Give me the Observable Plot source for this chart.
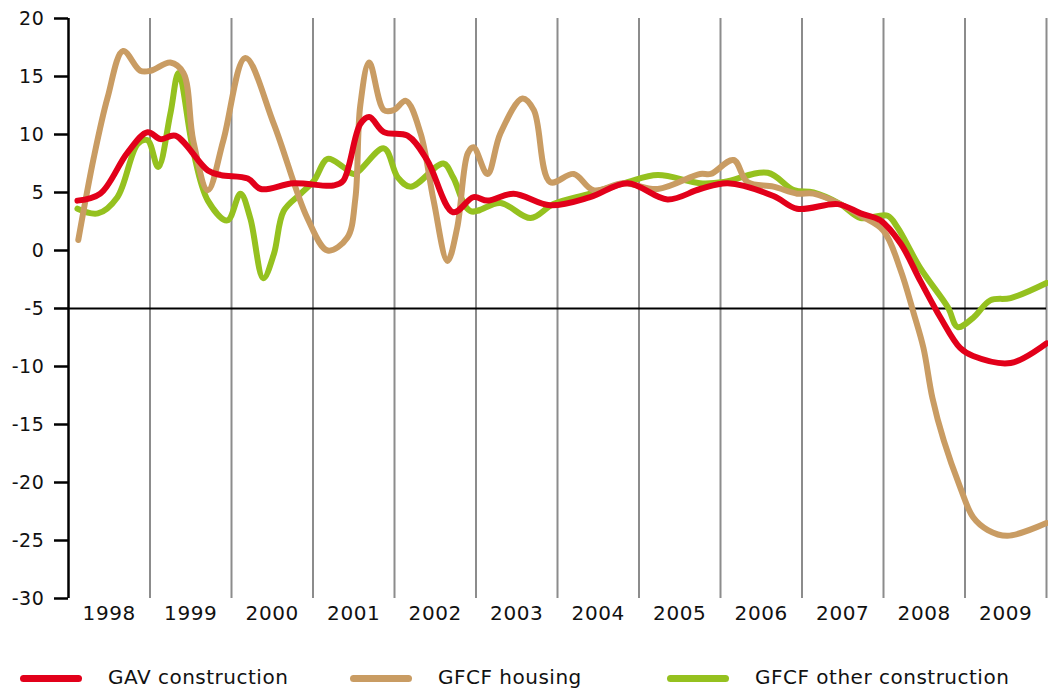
<!DOCTYPE html>
<html>
<head>
<meta charset="utf-8">
<script src="https://cdn.jsdelivr.net/npm/d3@7"></script>
<script src="https://cdn.jsdelivr.net/npm/@observablehq/plot@0.6"></script>
<style>
  html, body { margin: 0; padding: 0; background: #fff; }
  #chart { width: 1048px; }
  .legend { position: relative; width: 1048px; height: 41px; font-family: "DejaVu Sans", sans-serif; font-size: 20px; letter-spacing: 0.5px; color: #111; }
  .legend .sw { position: absolute; top: 25px; width: 62px; height: 7px; border-radius: 4px; }
  .legend .lb { position: absolute; top: 15px; line-height: 24px; white-space: nowrap; }
</style>
</head>
<body>
<div id="chart"></div>
<div class="legend" id="legend"></div>
<script>
// Year labels (x axis), one per year band
const years = [1998, 1999, 2000, 2001, 2002, 2003, 2004, 2005, 2006, 2007, 2008, 2009];
const yTicks = [-30, -25, -20, -15, -10, -5, 0, 5, 10, 15, 20];

const seriesNames = ["GAV construction", "GFCF housing", "GFCF other construction"];
const seriesColors = ["#e2001a", "#c99c63", "#95c11f"];

// GAV construction (time in decimal years, % change)
const gavT = [1998.11, 1998.39, 1998.72, 1998.97, 1999.13, 1999.31, 1999.71, 1999.87, 2000.20, 2000.36, 2000.76, 2001.25, 2001.37, 2001.58, 2001.69, 2001.87, 2002.16, 2002.40, 2002.72, 2002.97, 2003.14, 2003.46, 2003.91, 2004.40, 2004.86, 2005.35, 2005.75, 2006.09, 2006.65, 2006.94, 2007.44, 2007.72, 2007.96, 2008.21, 2008.45, 2008.70, 2008.94, 2009.10, 2009.56, 2010.00];
const gavV = [4.3, 4.9, 8.4, 10.2, 9.6, 9.9, 6.9, 6.5, 6.2, 5.3, 5.8, 5.6, 6.0, 10.9, 11.5, 10.2, 9.9, 7.8, 3.3, 4.6, 4.3, 4.9, 3.9, 4.6, 5.8, 4.4, 5.3, 5.8, 4.7, 3.6, 4.0, 3.2, 2.6, 0.6, -2.6, -5.8, -8.4, -9.1, -9.7, -8.0];

// GFCF housing
const housingT = [1998.12, 1998.31, 1998.48, 1998.67, 1998.88, 1999.01, 1999.25, 1999.41, 1999.53, 1999.71, 1999.90, 2000.17, 2000.52, 2000.93, 2001.18, 2001.42, 2001.52, 2001.58, 2001.69, 2001.87, 2001.99, 2002.14, 2002.32, 2002.48, 2002.65, 2002.77, 2002.90, 2002.97, 2003.14, 2003.30, 2003.57, 2003.71, 2003.91, 2004.20, 2004.44, 2004.81, 2005.23, 2005.75, 2005.88, 2006.16, 2006.33, 2006.65, 2006.94, 2007.14, 2007.47, 2007.72, 2008.00, 2008.21, 2008.37, 2008.49, 2008.60, 2008.74, 2008.94, 2009.10, 2009.28, 2009.52, 2010.00];
const housingV = [0.9, 8.0, 13.2, 17.2, 15.5, 15.5, 16.2, 15.3, 9.5, 5.2, 9.5, 16.6, 10.9, 2.8, 0.0, 1.1, 4.5, 12.5, 16.2, 12.1, 12.1, 12.9, 10.1, 4.3, -0.9, 2.0, 8.4, 8.9, 6.6, 10.1, 13.1, 12.1, 5.9, 6.6, 5.2, 5.8, 5.3, 6.6, 6.6, 7.8, 5.9, 5.5, 4.9, 4.9, 4.0, 3.0, 1.7, -1.7, -5.4, -8.4, -12.7, -16.4, -20.4, -23.0, -24.1, -24.6, -23.5];

// GFCF other construction
const otherT = [1998.11, 1998.36, 1998.60, 1998.85, 1998.97, 1999.10, 1999.25, 1999.35, 1999.53, 1999.71, 1999.95, 2000.11, 2000.23, 2000.39, 2000.52, 2000.64, 2000.85, 2001.01, 2001.18, 2001.37, 2001.50, 2001.87, 2002.04, 2002.20, 2002.60, 2002.72, 2002.93, 2003.30, 2003.67, 2003.95, 2004.40, 2004.86, 2005.23, 2005.75, 2006.04, 2006.58, 2006.90, 2007.14, 2007.47, 2007.72, 2008.05, 2008.17, 2008.45, 2008.79, 2008.91, 2009.10, 2009.31, 2009.56, 2010.00];
const otherV = [3.6, 3.2, 4.6, 9.2, 9.5, 7.2, 11.8, 15.3, 8.6, 4.3, 2.6, 4.9, 2.8, -2.4, -0.3, 3.4, 4.9, 6.0, 7.9, 7.2, 6.6, 8.8, 6.3, 5.5, 7.5, 6.3, 3.4, 4.1, 2.8, 4.0, 4.9, 5.9, 6.5, 5.8, 5.9, 6.7, 5.2, 5.0, 4.0, 2.8, 3.0, 2.0, -1.5, -4.9, -6.6, -5.8, -4.3, -4.1, -2.8];

const toRows = (ts, vs, s) => ts.map((t, i) => ({t, v: vs[i], s}));
const rows = [
  ...toRows(otherT, otherV, seriesNames[2]),
  ...toRows(housingT, housingV, seriesNames[1]),
  ...toRows(gavT, gavV, seriesNames[0])
];

const font = "DejaVu Sans, sans-serif";

const plot = Plot.plot({
  width: 1048,
  height: 650,
  marginLeft: 68,
  marginRight: 2,
  marginTop: 18,
  marginBottom: 52,
  style: {fontFamily: font, fontSize: "19px", color: "#111", background: "#fff", letterSpacing: "0.6px"},
  x: {domain: [1998, 2010]},
  y: {domain: [-30, 20]},
  color: {domain: seriesNames, range: seriesColors},
  marks: [
    Plot.ruleX(years.slice(1).concat([2010]), {stroke: "#8c8c8c", strokeWidth: 2}),
    Plot.ruleY([-5], {stroke: "#000", strokeWidth: 2}),
    Plot.line(rows, {x: "t", y: "v", z: "s", stroke: "s", strokeWidth: 6, curve: "catmull-rom", strokeLinecap: "round", strokeLinejoin: "round"}),
    Plot.ruleX([1998], {stroke: "#000", strokeWidth: 2.5}),
    Plot.axisY({ticks: yTicks, tickFormat: d => String(d), tickSize: 14, tickPadding: 10, strokeWidth: 2.5, stroke: "#000", label: null}),
    Plot.axisX({ticks: years.map(y => y + 0.5), tickFormat: d => String(Math.floor(d)), tickSize: 0, tickPadding: 7, fontSize: 20, label: null})
  ]
});
document.getElementById("chart").appendChild(plot);

// Legend (HTML, below the SVG)
const legendPos = [{sw: 20, lb: 108}, {sw: 350, lb: 438}, {sw: 667, lb: 755}];
const legend = document.getElementById("legend");
seriesNames.forEach((name, i) => {
  const sw = document.createElement("div");
  sw.className = "sw";
  sw.style.left = legendPos[i].sw + "px";
  sw.style.background = seriesColors[i];
  legend.appendChild(sw);
  const lb = document.createElement("div");
  lb.className = "lb";
  lb.style.left = legendPos[i].lb + "px";
  lb.textContent = name;
  legend.appendChild(lb);
});
</script>
</body>
</html>
